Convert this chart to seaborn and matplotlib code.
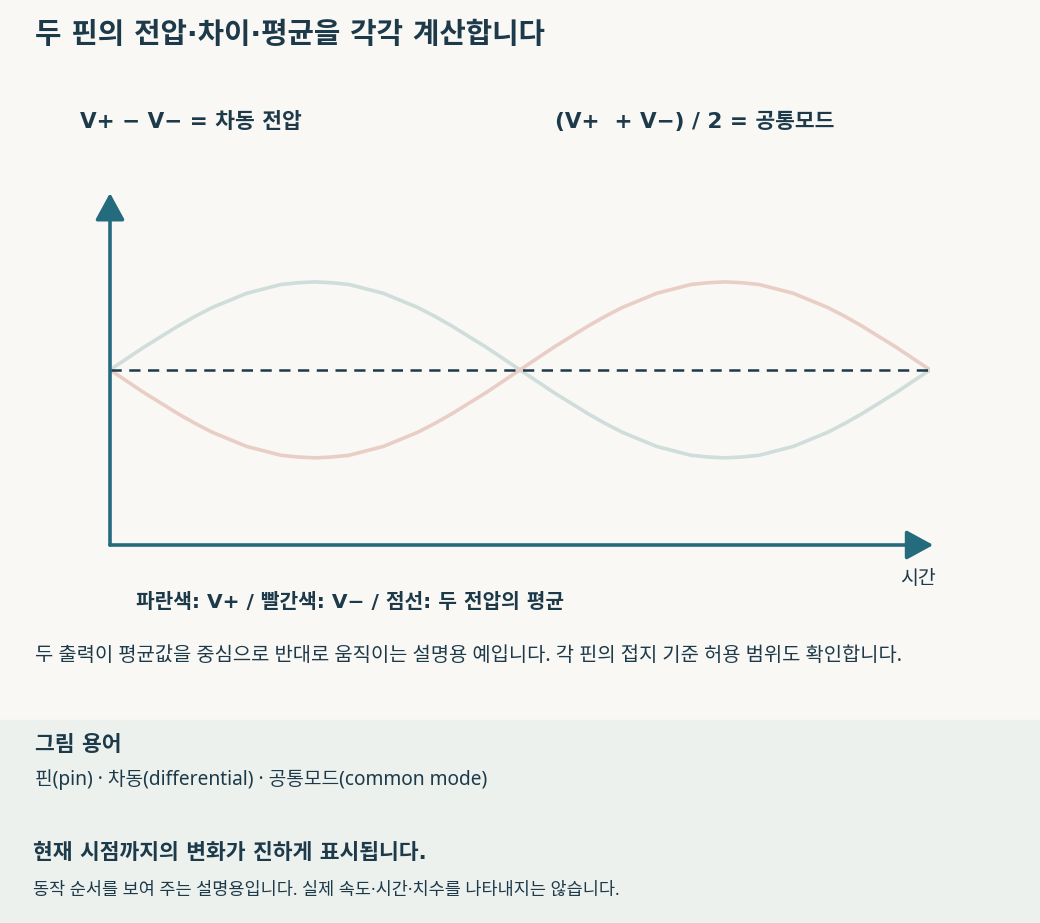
import matplotlib
matplotlib.use("Agg")
import matplotlib.pyplot as plt
from matplotlib.patches import Rectangle
import seaborn as sns
import pandas as pd

# --- 데이터 ---
time_step = list(range(49))
v_plus = [0.00, 0.13, 0.26, 0.38, 0.50, 0.61, 0.71, 0.79, 0.87, 0.92, 0.97, 0.99,
          1.00, 0.99, 0.97, 0.92, 0.87, 0.79, 0.71, 0.61, 0.50, 0.38, 0.26, 0.13,
          0.00, -0.13, -0.26, -0.38, -0.50, -0.61, -0.71, -0.79, -0.87, -0.92, -0.97, -0.99,
          -1.00, -0.99, -0.97, -0.92, -0.87, -0.79, -0.71, -0.61, -0.50, -0.38, -0.26, -0.13,
          0.00]
v_minus = [0.00, -0.13, -0.26, -0.38, -0.50, -0.61, -0.71, -0.79, -0.87, -0.92, -0.97, -0.99,
           -1.00, -0.99, -0.97, -0.92, -0.87, -0.79, -0.71, -0.61, -0.50, -0.38, -0.26, -0.13,
           0.00, 0.13, 0.26, 0.38, 0.50, 0.61, 0.71, 0.79, 0.87, 0.92, 0.97, 0.99,
           1.00, 0.99, 0.97, 0.92, 0.87, 0.79, 0.71, 0.61, 0.50, 0.38, 0.26, 0.13,
           0.00]
series_names = ["V+", "V−"]
v_mean = [(a + b) / 2 for a, b in zip(v_plus, v_minus)]

title = "두 핀의 전압·차이·평균을 각각 계산합니다"
label_diff = "V+ − V− = 차동 전압"
label_common = "(V+  + V−) / 2 = 공통모드"
x_label = "시간"
legend_text = "파란색: V+ / 빨간색: V− / 점선: 두 전압의 평균"
caption = "두 출력이 평균값을 중심으로 반대로 움직이는 설명용 예입니다. 각 핀의 접지 기준 허용 범위도 확인합니다."
terms_title = "그림 용어"
terms = "핀(pin) · 차동(differential) · 공통모드(common mode)"
note_title = "현재 시점까지의 변화가 진하게 표시됩니다."
note = "동작 순서를 보여 주는 설명용입니다. 실제 속도·시간·치수를 나타내지는 않습니다."

df = pd.DataFrame({
    "t": time_step * 2,
    "v": v_plus + v_minus,
    "pin": [series_names[0]] * len(time_step) + [series_names[1]] * len(time_step),
})

# --- 스타일 ---
sns.set_style("white")
REGULAR = ["Noto Sans", "Noto Sans CJK KR", "DejaVu Sans"]
BOLD = ["DejaVu Sans", "Noto Sans CJK KR"]
plt.rcParams["font.family"] = REGULAR
plt.rcParams["axes.unicode_minus"] = False

BG = "#f9f8f4"
PANEL = "#edf1ee"
INK = "#1d3a4a"
AXIS = "#256b7e"

W, H = 1040, 923
fig = plt.figure(figsize=(W / 100, H / 100), dpi=100, facecolor=BG)

def fx(x):
    return x / W

def fy(y):
    return 1 - y / H

# 하단 패널
fig.patches.append(Rectangle((0, 0), 1, fy(720), transform=fig.transFigure,
                             color=PANEL, zorder=0))

# 그래프 영역 (x: 110~930px, y: 193~545px)
ax = fig.add_axes([fx(110), fy(545), fx(930) - fx(110), fy(193) - fy(545)])
ax.set_facecolor("none")

sns.lineplot(data=df, x="t", y="v", hue="pin", ax=ax,
             palette={"V+": "#cfdddb", "V−": "#e9cec6"},
             linewidth=2.6, legend=False)
sns.lineplot(x=time_step, y=v_mean, ax=ax, color=INK, linewidth=1.8)
ax.lines[-1].set_linestyle((0, (4.5, 3)))

ax.set_xlim(time_step[0], time_step[-1])
ax.set_ylim(-1.99, 2.01)
ax.set_xlabel("")
ax.set_ylabel("")
ax.set_xticks([])
ax.set_yticks([])
for s in ax.spines.values():
    s.set_visible(False)

# 축 화살표
arrow_kw = dict(arrowstyle="-|>,head_length=0.55,head_width=0.3", color=AXIS,
                lw=2.6, shrinkA=0, shrinkB=0, mutation_scale=30)
ax.annotate("", xy=(1.004, 0), xytext=(0, 0), xycoords="axes fraction",
            arrowprops=arrow_kw, annotation_clip=False)
ax.annotate("", xy=(0, 1.0), xytext=(0, 0), xycoords="axes fraction",
            arrowprops=arrow_kw, annotation_clip=False)

# --- 텍스트 ---
fig.text(fx(35), fy(35), title, fontsize=20.7, fontweight="bold", color=INK,
         ha="left", va="center", family=BOLD)
fig.text(fx(80), fy(122), label_diff, fontsize=15.5, fontweight="bold", color=INK,
         ha="left", va="center", family=BOLD)
fig.text(fx(555), fy(122), label_common, fontsize=15.5, fontweight="bold", color=INK,
         ha="left", va="center", family=BOLD)
fig.text(fx(918), fy(579), x_label, fontsize=14, color=INK, ha="center", va="center")
fig.text(fx(136), fy(602), legend_text, fontsize=14.6, fontweight="bold", color=INK,
         ha="left", va="center", family=BOLD)
fig.text(fx(35), fy(656), caption, fontsize=14.3, color=INK, ha="left", va="center")

fig.text(fx(35), fy(745), terms_title, fontsize=15.5, fontweight="bold", color=INK,
         ha="left", va="center", family=BOLD)
fig.text(fx(35), fy(780), terms, fontsize=13.8, color=INK, ha="left", va="center")
fig.text(fx(33), fy(853), note_title, fontsize=15.5, fontweight="bold", color=INK,
         ha="left", va="center", family=BOLD)
fig.text(fx(33), fy(890), note, fontsize=12.6, color=INK, ha="left", va="center")

fig.savefig("out.png", dpi=100, facecolor=BG)
